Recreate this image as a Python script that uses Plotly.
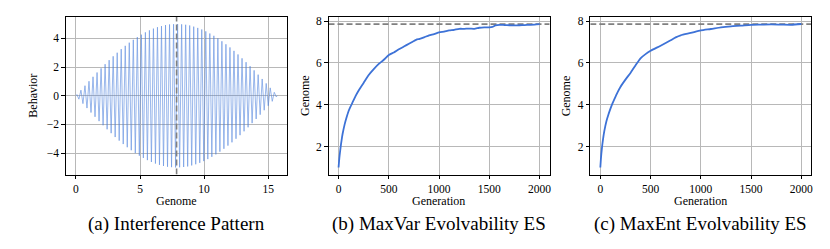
import plotly.graph_objects as go

# ---------------- data ----------------
# (a) interference pattern: behaviour at successive extrema along the genome axis
genome_step = 0.15708          # spacing between successive extrema
genome_end = 15.708
behavior_peaks = [
    0.08, -0.24, 0.39, -0.55, 0.70, -0.86, 1.01, -1.17, 1.32, -1.47,
    1.62, -1.77, 1.91, -2.06, 2.20, -2.34, 2.48, -2.61, 2.75, -2.88,
    3.00, -3.13, 3.25, -3.37, 3.48, -3.59, 3.70, -3.80, 3.90, -4.00,
    4.09, -4.18, 4.26, -4.34, 4.42, -4.49, 4.56, -4.62, 4.68, -4.73,
    4.78, -4.82, 4.86, -4.90, 4.93, -4.95, 4.97, -4.98, 4.99, -5.00,
    5.00, -4.99, 4.98, -4.97, 4.95, -4.93, 4.90, -4.86, 4.82, -4.78,
    4.73, -4.68, 4.62, -4.56, 4.49, -4.42, 4.34, -4.26, 4.18, -4.09,
    4.00, -3.90, 3.80, -3.70, 3.59, -3.48, 3.37, -3.25, 3.13, -3.00,
    2.88, -2.75, 2.61, -2.48, 2.34, -2.20, 2.06, -1.91, 1.77, -1.62,
    1.47, -1.32, 1.17, -1.01, 0.86, -0.70, 0.55, -0.39, 0.24, -0.08,
]
optimum_genome = 7.854

# (b) MaxVar Evolvability ES
gen_b = [0, 5, 10, 20, 30, 40, 60, 80, 100, 120, 140, 170, 200, 250, 300, 350,
         400, 450, 500, 550, 600, 650, 700, 750, 780, 800, 850, 900, 950, 1000,
         1050, 1100, 1150, 1200, 1250, 1300, 1350, 1400, 1450, 1500, 1530,
         1560, 1600, 1650, 1700, 1750, 1800, 1850, 1900, 1950, 2000]
genome_b = [1.0, 1.3, 1.55, 1.95, 2.3, 2.6, 3.05, 3.4, 3.7, 3.92, 4.12, 4.42,
            4.68, 5.05, 5.42, 5.7, 5.95, 6.15, 6.38, 6.5, 6.65, 6.78, 6.92,
            7.05, 7.12, 7.14, 7.22, 7.32, 7.38, 7.46, 7.5, 7.55, 7.58, 7.63,
            7.63, 7.64, 7.63, 7.68, 7.70, 7.70, 7.72, 7.79, 7.82, 7.81, 7.80,
            7.79, 7.80, 7.81, 7.82, 7.83, 7.85]

# (c) MaxEnt Evolvability ES
gen_c = [0, 5, 10, 20, 30, 40, 60, 80, 100, 120, 140, 170, 200, 250, 300, 350,
         400, 450, 500, 600, 700, 750, 800, 900, 1000, 1100, 1200, 1300, 1400,
         1500, 1600, 1700, 1800, 1900, 2000]
genome_c = [1.0, 1.35, 1.65, 2.1, 2.45, 2.75, 3.2, 3.52, 3.8, 4.05, 4.27, 4.58,
            4.85, 5.2, 5.52, 5.88, 6.22, 6.42, 6.58, 6.82, 7.08, 7.22, 7.32,
            7.43, 7.55, 7.62, 7.70, 7.75, 7.78, 7.82, 7.83, 7.84, 7.83, 7.82,
            7.86]
optimum_level = 7.854

captions = ["(a) Interference Pattern", "(b) MaxVar Evolvability ES",
            "(c) MaxEnt Evolvability ES"]

# ---------------- figure ----------------
W, H = 830, 249
FONT = "Liberation Serif"
BLUE = "#3d72d7"
DASH = "#808080"
GRID = "#b8b8b8"

genome_a = [0.0] + [(k + 0.5) * genome_step for k in range(len(behavior_peaks))] + [genome_end]
behavior_a = [0.0] + behavior_peaks + [0.0]

fig = go.Figure()
fig.add_trace(go.Scatter(x=genome_a, y=behavior_a, mode="lines",
                         line=dict(color="#4a80dc", width=0.7), opacity=0.8,
                         xaxis="x", yaxis="y", showlegend=False))
fig.add_trace(go.Scatter(x=[optimum_genome, optimum_genome], y=[-5.5, 5.5], mode="lines",
                         line=dict(color=DASH, width=1.6, dash="6px,3px"),
                         xaxis="x", yaxis="y", showlegend=False))

fig.add_trace(go.Scatter(x=[-100, 2100], y=[optimum_level, optimum_level], mode="lines",
                         line=dict(color=DASH, width=1.6, dash="6px,3px"),
                         xaxis="x2", yaxis="y2", showlegend=False))
fig.add_trace(go.Scatter(x=gen_b, y=genome_b, mode="lines",
                         line=dict(color=BLUE, width=1.8, shape="spline", smoothing=0.6),
                         xaxis="x2", yaxis="y2", showlegend=False))

fig.add_trace(go.Scatter(x=[-100, 2100], y=[optimum_level, optimum_level], mode="lines",
                         line=dict(color=DASH, width=1.6, dash="6px,3px"),
                         xaxis="x3", yaxis="y3", showlegend=False))
fig.add_trace(go.Scatter(x=gen_c, y=genome_c, mode="lines",
                         line=dict(color=BLUE, width=1.8, shape="spline", smoothing=0.6),
                         xaxis="x3", yaxis="y3", showlegend=False))

def px_x(p):
    return p / W

def px_y(p):
    return 1 - p / H

axis_common = dict(showgrid=True, gridcolor=GRID, gridwidth=1, zeroline=False,
                   showline=True, linecolor="black", linewidth=1, mirror=True,
                   ticks="outside", ticklen=3.5, tickwidth=0.8, tickcolor="black",
                   tickfont=dict(family=FONT, size=11.5, color="black"))

ydom = [px_y(174), px_y(15)]
fig.update_layout(
    width=W, height=H, margin=dict(l=0, r=0, t=0, b=0),
    paper_bgcolor="white", plot_bgcolor="white",
    font=dict(family=FONT),
    xaxis=dict(domain=[px_x(66), px_x(288)], range=[-0.785, 16.49],
               tickvals=[0, 5, 10, 15], anchor="y", **axis_common),
    yaxis=dict(domain=ydom, range=[-5.5, 5.5], tickvals=[-4, -2, 0, 2, 4],
               anchor="x", **axis_common),
    xaxis2=dict(domain=[px_x(329.3), px_x(551)], range=[-100, 2100],
                tickvals=[0, 500, 1000, 1500, 2000], anchor="y2", **axis_common),
    yaxis2=dict(domain=ydom, range=[0.66, 8.2], tickvals=[2, 4, 6, 8],
                anchor="x2", **axis_common),
    xaxis3=dict(domain=[px_x(591.7), px_x(813.3)], range=[-100, 2100],
                tickvals=[0, 500, 1000, 1500, 2000], anchor="y3", **axis_common),
    yaxis3=dict(domain=ydom, range=[0.66, 8.2], tickvals=[2, 4, 6, 8],
                anchor="x3", **axis_common),
)

ann = []
def text(x, y, s, size, angle=0):
    ann.append(dict(x=px_x(x), y=px_y(y), xref="paper", yref="paper", text=s,
                    showarrow=False, textangle=angle, xanchor="center", yanchor="middle",
                    font=dict(family=FONT, size=size, color="black")))

text(177, 201, "Genome", 12)
text(33, 94.5, "Behavior", 12, -90)
text(440, 201, "Generation", 12)
text(305, 94.5, "Genome", 12, -90)
text(702.5, 201, "Generation", 12)
text(567, 94.5, "Genome", 12, -90)
text(177, 224, captions[0], 19)
text(440, 224, captions[1], 19)
text(702.5, 224, captions[2], 19)
fig.update_layout(annotations=ann)

fig.write_html("out.html", config={"displayModeBar": False},
               post_script="document.body.style.margin='0';document.body.style.padding='0';")
